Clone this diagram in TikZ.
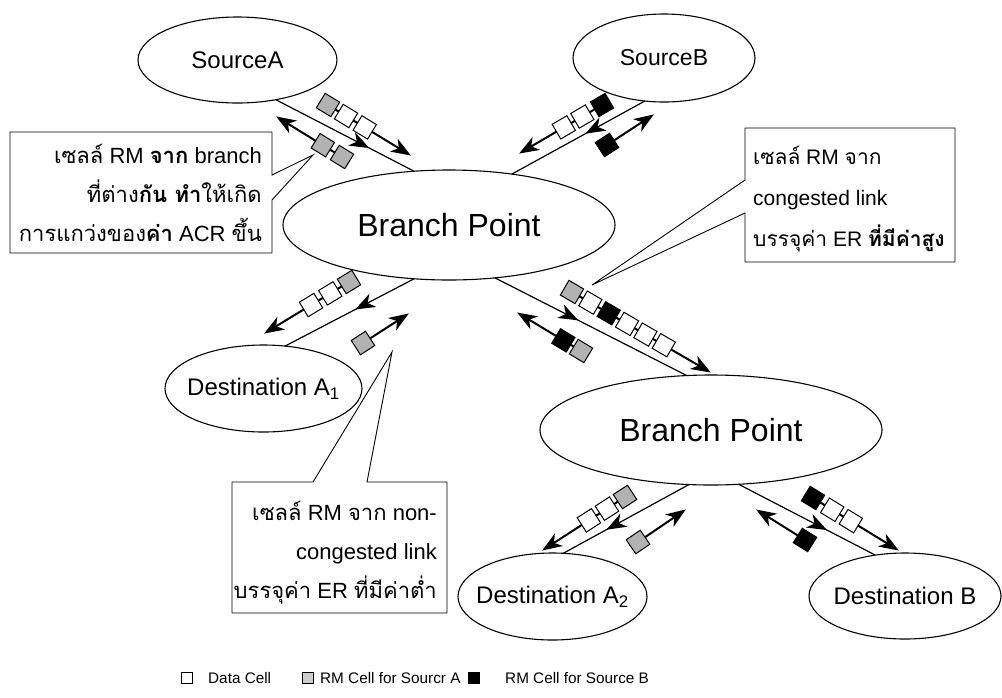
\documentclass[tikz,border=0pt]{standalone}
\usepackage{fontspec}
\setmainfont{Liberation Sans}
\newfontfamily\thai[Script=Thai]{Loma}
\usetikzlibrary{calc,shapes.geometric}
\newcommand\arrhead[2]{%
  \coordinate (ah-b) at ($(#1)!19pt!(#2)$);
  \fill ($(#1)!-1pt!(#2)$) -- ($(ah-b)!7.5pt!90:(#1)$) -- ($(#1)!13pt!(#2)$) -- ($(ah-b)!7.5pt!-90:(#1)$) -- cycle;}
\begin{document}
\begin{tikzpicture}[x=1pt,y=-1pt,
  ell/.style={draw, ellipse, line width=1.1pt, inner sep=0pt, outer sep=0pt},
  link/.style={line width=1.2pt},
  flow/.style={line width=2pt, shorten >=10pt},
  cell/.style={draw, line width=1pt, minimum size=17pt, inner sep=0pt, outer sep=0pt, sloped},
  cw/.style={cell, fill=white},
  cg/.style={cell, fill=gray!60},
  cb/.style={cell, fill=black},
  callout/.style={line width=0.9pt, line join=miter},
  ctext/.style={inner sep=0pt, font=\fontsize{22}{39}\selectfont},
  legbox/.style={draw, line width=0.6pt, minimum size=11pt, inner sep=0pt},
  legtext/.style={anchor=west, inner sep=0pt, font=\fontsize{15.3}{18}\selectfont},
]
\useasboundingbox (0,0) rectangle (1002,697);

% ellipses
\node[ell, minimum width=199pt, minimum height=86pt, font=\fontsize{24}{28}\selectfont] (srcA) at (237.5,60) {SourceA};
\node[ell, minimum width=182pt, minimum height=88pt, font=\fontsize{23}{27}\selectfont] (srcB) at (664,58) {SourceB};
\node[ell, minimum width=332pt, minimum height=110pt, font=\fontsize{32}{36}\selectfont] (bp1) at (449,225) {Branch Point};
\node[ell, minimum width=342pt, minimum height=110pt, font=\fontsize{32}{36}\selectfont] (bp2) at (711,430) {Branch Point};
\node[ell, minimum width=197pt, minimum height=87pt, font=\fontsize{24}{28}\selectfont] (dA1) at (263.5,388.5) {\makebox[0pt]{Destination A\textsubscript{1}}};
\node[ell, minimum width=189pt, minimum height=87pt, font=\fontsize{24}{28}\selectfont] (dA2) at (552.5,596.5) {\makebox[0pt]{Destination A\textsubscript{2}}};
\node[ell, minimum width=192pt, minimum height=86pt, font=\fontsize{24}{28}\selectfont] (dB) at (905,596) {\makebox[0pt]{Destination B}};

% links, each with a filled arrowhead part way along
\newcommand\midlink[3]{%
  \draw[link] (#1) -- (#2) coordinate[pos=#3] (mh-tip);
  \arrhead{mh-tip}{#1}}
\midlink{srcA.-46.8}{bp1.123.9}{0.67}
\midlink{srcB.-114.3}{bp1.39.6}{0.44}
\midlink{bp1.-123.7}{dA1.63.2}{0.45}
\midlink{bp1.-49}{bp2.114.4}{0.43}
\midlink{bp2.-112.8}{dA2.76.4}{0.65}
\midlink{bp2.-63.4}{dB.126.7}{0.64}

% flows: link 1
\coordinate (f1s) at (328,105); \coordinate (f1e) at (410,155);
\draw[flow] (f1s) -- (f1e) node[cg,pos=0] (c1a) {} node[cw,pos=.22] (c1b) {} node[cw,pos=.448] (c1c) {};
\arrhead{f1e}{f1s}
\coordinate (g1s) at (342,157); \coordinate (g1e) at (277,117);
\draw[flow] (g1s) -- (g1e) node[cg,pos=0] (d1a) {} node[cg,pos=.295] (d1b) {};
\arrhead{g1e}{g1s}
% link 2
\coordinate (f2s) at (602,105); \coordinate (f2e) at (520,153);
\draw[flow] (f2s) -- (f2e) node[cb,pos=0] (c2a) {} node[cw,pos=.24] (c2b) {} node[cw,pos=.466] (c2c) {};
\arrhead{f2e}{f2s}
\coordinate (g2s) at (607,145); \coordinate (g2e) at (653,115);
\draw[flow] (g2s) -- (g2e) node[cb,pos=0] (d2a) {};
\arrhead{g2e}{g2s}
% link 3
\coordinate (f3s) at (349,282); \coordinate (f3e) at (265,333);
\draw[flow] (f3s) -- (f3e) node[cg,pos=0] (c3a) {} node[cw,pos=.223] (c3b) {} node[cw,pos=.452] (c3c) {};
\arrhead{f3e}{f3s}
\coordinate (g3s) at (363,343); \coordinate (g3e) at (408,314);
\draw[flow] (g3s) -- (g3e) node[cg,pos=0] (d3a) {};
\arrhead{g3e}{g3s}
% link 4
\coordinate (f4s) at (572,292); \coordinate (f4e) at (710,372);
\draw[flow] (f4s) -- (f4e) node[cg,pos=0] (c4a) {} node[cw,pos=.133] (c4b) {} node[cb,pos=.266] (c4c) {}
  node[cw,pos=.399] (c4d) {} node[cw,pos=.532] (c4e) {} node[cw,pos=.665] (c4f) {};
\arrhead{f4e}{f4s}
\coordinate (g4s) at (581,351); \coordinate (g4e) at (518,313);
\draw[flow] (g4s) -- (g4e) node[cg,pos=0] (d4a) {} node[cb,pos=.28] (d4b) {};
\arrhead{g4e}{g4s}
% link 5
\coordinate (f5s) at (625,497); \coordinate (f5e) at (543,550);
\draw[flow] (f5s) -- (f5e) node[cg,pos=0] (c5a) {} node[cw,pos=.22] (c5b) {} node[cw,pos=.44] (c5c) {};
\arrhead{f5e}{f5s}
\coordinate (g5s) at (638,542); \coordinate (g5e) at (685,510);
\draw[flow] (g5s) -- (g5e) node[cg,pos=0] (d5a) {};
\arrhead{g5e}{g5s}
% link 6
\coordinate (f6s) at (813,498); \coordinate (f6e) at (898,550);
\draw[flow] (f6s) -- (f6e) node[cb,pos=0] (c6a) {} node[cw,pos=.226] (c6b) {} node[cw,pos=.445] (c6c) {};
\arrhead{f6e}{f6s}
\coordinate (g6s) at (805,540); \coordinate (g6e) at (757,510);
\draw[flow] (g6s) -- (g6e) node[cb,pos=0] (d6a) {};
\arrhead{g6e}{g6s}

% callouts
\draw[callout] (272,175) -- (313,155) -- (272,200) -- (272,253) -- (10,253) -- (10,132) -- (272,132) -- cycle;
\node[ctext, align=right, anchor=east] (t1) at (262,193)
  {{\thai เซลล์} RM {\thai\bfseries จาก} branch\\
   {\thai ที่ต่าง\textbf{กัน} \textbf{ทำ}ให้เกิด}\\
   {\thai การแกว่งของ\textbf{ค่า}} ACR {\thai ขึ้น}};

\draw[callout] (745,180) -- (592,285) -- (745,213) -- (745,262) -- (955,262) -- (955,128) -- (745,128) -- cycle;
\node[ctext, align=left, anchor=west, font=\fontsize{21}{41}\selectfont] (t2) at (753,199)
  {{\thai เซลล์} RM {\thai จาก}\\
   congested link\\
   {\thai บรรจุค่า} ER {\thai\bfseries ที่มีค่าสูง}};

\draw[callout] (313,482) -- (392,352) -- (367,482) -- (447,482) -- (447,613) -- (232,613) -- (232,482) -- cycle;
\node[ctext, align=right, anchor=east] (t3) at (437,553)
  {{\thai เซลล์} RM {\thai จาก} non-\\
   congested link\\
   {\thai บรรจุค่า} ER {\thai ที่มีค่าต่ำ}};

% legend
\node[legbox, fill=white] (lw) at (187,678) {};
\node[legtext] (lwt) at (208,678) {Data Cell};
\node[legbox, fill=gray!40] (lg) at (307.5,678) {};
\node[legtext] (lgt) at (320,678) {RM Cell for Sourcr A};
\node[legbox, fill=black] (lb) at (474,678) {};
\node[legtext] (lbt) at (505,678) {RM Cell for Source B};
\end{tikzpicture}
\end{document}
